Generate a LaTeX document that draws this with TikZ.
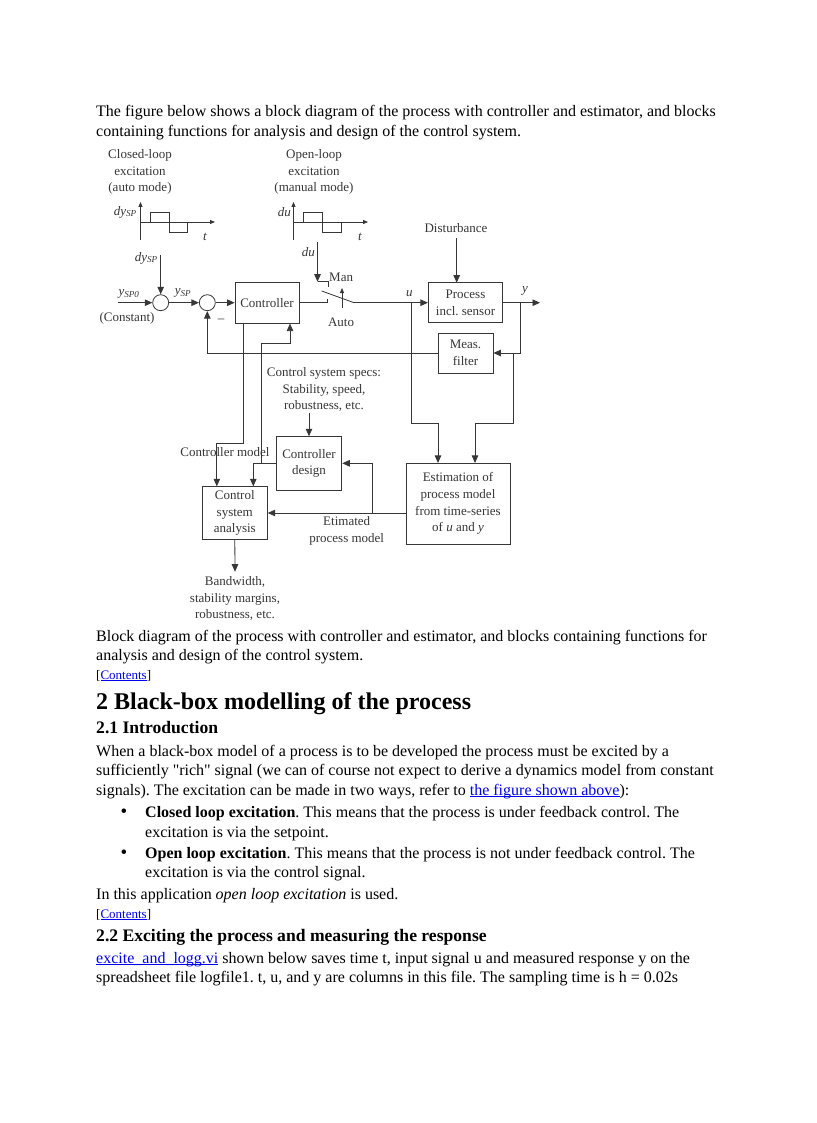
\documentclass[tikz,border=0pt]{standalone}
\usepackage{fontspec}
\setmainfont{Liberation Serif}
\newfontfamily\qfont{Liberation Serif}[Ligatures=TeXOff]
\usepackage{xcolor}
\usepackage{tikz}
\usetikzlibrary{arrows.meta, positioning, calc}

\frenchspacing
\definecolor{linkblue}{RGB}{0,0,238}
\definecolor{inkgray}{RGB}{55,55,55}
\newcommand{\bodyfont}{\fontsize{16}{20}\selectfont}
\newcommand{\hfont}{\fontsize{24}{28}\selectfont\bfseries}
\newcommand{\shfont}{\fontsize{17.6}{21}\selectfont\bfseries}
\newcommand{\smfont}{\fontsize{13}{15}\selectfont}
\newcommand{\dfont}{\fontsize{13}{16.6}\selectfont}
\newcommand{\lnk}[1]{{\color{linkblue}\setbox0=\hbox{#1}\rlap{\rule[-1.8pt]{\wd0}{0.8pt}}\box0}}
\newcommand{\sub}[1]{\textsubscript{\textit{#1}}}
\newcommand{\dq}{{\qfont"}}

\begin{document}
\begin{tikzpicture}[x=1pt, y=-1pt,
  txt/.style={anchor=base west, inner sep=0pt, font=\bodyfont},
  blk/.style={draw=inkgray, line width=0.8pt, inner sep=0pt, align=center, font=\dfont, text=inkgray},
  sumnode/.style={draw=inkgray, line width=0.8pt, circle, minimum size=16pt, inner sep=0pt},
  lab/.style={inner sep=0pt, font=\dfont, text=inkgray, align=center},
  sig/.style={draw=inkgray, line width=0.8pt, -{Triangle[length=7.5pt,width=6.5pt]}},
  wire/.style={draw=inkgray, line width=0.8pt},
  axis/.style={draw=inkgray, line width=0.8pt, -{Triangle[length=5pt,width=4pt]}}
]
\fill[white] (0,0) rectangle (816,1123);
\useasboundingbox (0,0) rectangle (816,1123);

% text above the figure
\node[txt] (p1) at (96,117) {The figure below shows a block diagram of the process with controller and estimator, and blocks};
\node[txt] (p2) at (96,137) {containing functions for analysis and design of the control system.};

% excitation signals
\node[lab] (cltxt) at (140,172) {Closed-loop\\excitation\\(auto mode)};
\node[lab] (oltxt) at (314,172) {Open-loop\\excitation\\(manual mode)};
\draw[axis] (140.5,240) -- (140.5,202);
\draw[axis] (140.5,222) -- (215,222);
\draw[wire] (150,222) -- (150,212) -- (169,212) -- (169,232) -- (187,232) -- (187,222);
\node[lab, anchor=east] (dy1) at (137,212) {\textit{dy}\sub{SP}};
\node[lab] (t1) at (205,237) {\textit{t}};
\draw[axis] (293.5,240) -- (293.5,202);
\draw[axis] (293.5,222) -- (368,222);
\draw[wire] (303,222) -- (303,212) -- (322,212) -- (322,232) -- (341,232) -- (341,222);
\node[lab, anchor=east] (du1) at (291,212) {\textit{du}};
\node[lab] (t2) at (360,237) {\textit{t}};

% main loop
\node[sumnode] (sum1) at (160.7,302.7) {};
\node[sumnode] (sum2) at (207.3,302.7) {};
\node[blk, minimum width=64pt, minimum height=41pt] (ctrl) at (267,302.7) {Controller};
\node[blk, minimum width=74.4pt, minimum height=40pt] (proc) at (465.5,302.7) {Process\\incl. sensor};
\node[blk, minimum width=55pt, minimum height=40pt] (filt) at (465.5,353) {Meas.\\filter};

\coordinate (yin) at (118,302.7);
\coordinate (dytop) at (160.7,255);
\node[lab, anchor=east] (dy2) at (158,258) {\textit{dy}\sub{SP}};
\node[lab] (ysp0) at (129,294) {\textit{y}\sub{SP0}};
\node[lab] (const) at (127,318) {(Constant)};
\node[lab] (ysp) at (183,293) {\textit{y}\sub{SP}};
\node[lab] (minus) at (221,321) {–};
\draw[sig] (yin) -- (sum1);
\draw[sig] (dytop) -- (sum1);
\draw[sig] (sum1) -- (sum2);
\draw[sig] (sum2) -- (ctrl);
\draw[sig] (filt.west) -| (sum2.south);

% manual/auto switch
\coordinate (autoc) at (327,302.7);
\coordinate (manc) at (317.5,281.7);
\coordinate (dutop) at (317.5,242);
\coordinate (blade) at (321.7,291);
\coordinate (pivot) at (354,302.7);
\node[lab, anchor=east] (du2) at (315,252) {\textit{du}};
\node[lab, anchor=west] (man) at (329,277.3) {Man};
\node[lab] (auto) at (341,322.7) {Auto};
\draw[wire] (ctrl.east) -- (autoc) -- ++(0,-3.5);
\draw[sig] (dutop) -- (manc);
\draw[wire] (manc) -- (328.3,281.7) -- (328.3,286.5);
\draw[wire] (blade) -- (pivot);
\draw[axis] (342,308) -- (342,288);
\draw[sig] (pivot) -- (proc.west);
\node[lab] (ulab) at (409.3,293.3) {\textit{u}};

% process side
\node[lab] (dist) at (456,228.3) {Disturbance};
\draw[sig] (456.7,238) -- (456.7,282.7);
\coordinate (yout) at (540,302.7);
\coordinate (ybr) at (520,302.7);
\node[lab] (ylab) at (525,290.7) {\textit{y}};
\draw[sig] (proc.east) -- (yout);
\draw[sig] (ybr) |- (filt.east);

% estimation and design
\node[blk, minimum width=104pt, minimum height=80.7pt] (estim) at (458,503.7) {Estimation of\\process model\\from time-series\\of \textit{u} and \textit{y}};
\node[blk, minimum width=65.7pt, minimum height=53.3pt] (design) at (309,463.3) {Controller\\design};
\node[blk, minimum width=65pt, minimum height=52.6pt] (anal) at (234.8,513) {Control\\system\\analysis};
\draw[sig] (411,302.7) -- (411,423) -| ([xshift=-20pt]estim.north);
\draw[sig] (513,353) -- (513,423) -| ([xshift=17pt]estim.north);
\node[lab] (specs) at (324,389.5) {Control system specs:\\Stability, speed,\\robustness, etc.};
\draw[sig] ([yshift=23.4pt]design.north) -- (design.north);
\node[lab] (cmodel) at (225,452.3) {Controller model};
\draw[sig] ([xshift=-24pt]ctrl.south) -- (243,443.3) -| ([xshift=-18pt]anal.north);
\draw[sig] (design.west) -| ([xshift=18.5pt]anal.north);
\draw[sig] (261.7,463.3) -- (261.7,343.3) -| ([xshift=23pt]ctrl.south);
\draw[sig] (estim.west |- anal.east) -- (anal.east);
\draw[sig] (372.7,513) |- (design.east);
\node[lab] (estlab) at (346.7,531) {Etimated\\process model};
\coordinate (bw) at (235,571.7);
\draw[sig] (anal.south) -- (bw);
\node[lab] (bwtxt) at (235,598.7) {Bandwidth,\\stability margins,\\robustness, etc.};

% text below the figure
\node[txt] (c1) at (96,641) {Block diagram of the process with controller and estimator, and blocks containing functions for};
\node[txt] (c2) at (96,660) {analysis and design of the control system.};
\node[txt, font=\smfont] (toc1) at (96,679) {[\lnk{Contents}]};
\node[txt, font=\hfont] (h2) at (96,709) {2 Black-box modelling of the process};
\node[txt, font=\shfont] (h21) at (96,733) {2.1 Introduction};
\node[txt] (q1) at (96,756) {When a black-box model of a process is to be developed the process must be excited by a};
\node[txt] (q2) at (96,775) {sufficiently \dq rich\dq{} signal (we can of course not expect to derive a dynamics model from constant};
\node[txt] (q3) at (96,795) {signals). The excitation can be made in two ways, refer to \lnk{the figure shown above}):};
\node[txt, anchor=base, font=\fontsize{19}{20}\selectfont] (b1) at (124,817) {•};
\node[txt] (q4) at (145,817) {\textbf{Closed loop excitation}. This means that the process is under feedback control. The};
\node[txt] (q5) at (145,837) {excitation is via the setpoint.};
\node[txt, anchor=base, font=\fontsize{19}{20}\selectfont] (b2) at (124,858) {•};
\node[txt] (q6) at (145,858) {\textbf{Open loop excitation}. This means that the process is not under feedback control. The};
\node[txt] (q7) at (145,877) {excitation is via the control signal.};
\node[txt] (q8) at (96,899) {In this application \textit{open loop excitation} is used.};
\node[txt, font=\smfont] (toc2) at (96,918) {[\lnk{Contents}]};
\node[txt, font=\shfont] (h22) at (96,941) {2.2 Exciting the process and measuring the response};
\node[txt] (q9) at (96,963) {\lnk{excite\_and\_logg.vi} shown below saves time t, input signal u and measured response y on the};
\node[txt] (q10) at (96,982) {spreadsheet file logfile1. t, u, and y are columns in this file. The sampling time is h = 0.02s};
\end{tikzpicture}
\end{document}
